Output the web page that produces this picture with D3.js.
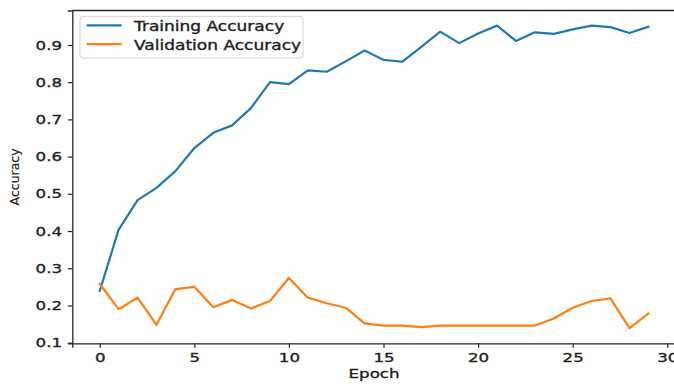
<!DOCTYPE html>
<html>
<head>
<meta charset="utf-8">
<script src="https://cdn.jsdelivr.net/npm/d3@7"></script>
<style>
  html, body { margin: 0; padding: 0; background: #fff; }
  svg { display: block; }
  text { font-family: "DejaVu Sans", sans-serif; fill: #222; stroke: #222; stroke-width: 0.35px; }
</style>
</head>
<body>
<svg id="chart" width="674" height="384"></svg>
<script>
// Training history per epoch
const epochs = d3.range(0, 30);
const trainAcc = [0.239, 0.404, 0.483, 0.516, 0.561, 0.623, 0.664, 0.684, 0.731, 0.800,
                  0.795, 0.832, 0.828, 0.856, 0.885, 0.860, 0.855, 0.895, 0.936, 0.905,
                  0.931, 0.952, 0.911, 0.934, 0.930, 0.942, 0.952, 0.948, 0.932, 0.949];
const valAcc = [0.258, 0.190, 0.221, 0.148, 0.244, 0.250, 0.195, 0.215, 0.192, 0.212,
                0.274, 0.221, 0.206, 0.194, 0.152, 0.146, 0.146, 0.142, 0.146, 0.146,
                0.146, 0.146, 0.146, 0.146, 0.165, 0.194, 0.212, 0.219, 0.139, 0.178];
const xTicks = [0, 5, 10, 15, 20, 25, 30];
const yTicks = [0.1, 0.2, 0.3, 0.4, 0.5, 0.6, 0.7, 0.8, 0.9];
const seriesNames = ["Training Accuracy", "Validation Accuracy"];
const colors = ["#1f77b4", "#ff7f0e"];

const svg = d3.select("#chart");
const plot = { left: 72.3, right: 675.8, top: 10.5, bottom: 343.3 };
const stretch = 1.28;   // horizontal widening of the text glyphs

// axis limits with 5% padding around the data, like the plotting default
const allVals = trainAcc.concat(valAcc);
const yMin = d3.min(allVals), yMax = d3.max(allVals);
const yPad = (yMax - yMin) * 0.05;
const xPad = (d3.max(epochs) - d3.min(epochs)) * 0.05;

const x = d3.scaleLinear()
  .domain([d3.min(epochs) - xPad, d3.max(epochs) + xPad])
  .range([plot.left, plot.right]);
const y = d3.scaleLinear()
  .domain([yMin - yPad, yMax + yPad])
  .range([plot.bottom, plot.top]);

// data lines
const line = d3.line().x((d, i) => x(epochs[i])).y(d => y(d));
[trainAcc, valAcc].forEach((vals, k) => {
  svg.append("path")
    .datum(vals)
    .attr("d", line)
    .attr("fill", "none")
    .attr("stroke", colors[k])
    .attr("stroke-width", 2.2)
    .attr("stroke-linejoin", "round")
    .attr("stroke-linecap", "square");
});

// frame
const frame = svg.append("g")
  .attr("fill", "none").attr("stroke", "#262626").attr("stroke-width", 1.3);
frame.append("line").attr("x1", plot.left).attr("x2", plot.right).attr("y1", plot.top).attr("y2", plot.top);
frame.append("line").attr("x1", plot.right).attr("x2", plot.right).attr("y1", plot.top).attr("y2", plot.bottom);

// x axis
const gx = svg.append("g")
  .attr("transform", `translate(0,${plot.bottom})`)
  .call(d3.axisBottom(x).tickValues(xTicks).tickSize(4.5).tickFormat(d3.format("d")));
// y axis
const gy = svg.append("g")
  .attr("transform", `translate(${plot.left},0)`)
  .call(d3.axisLeft(y).tickValues(yTicks).tickSize(4.5).tickFormat(d3.format(".1f")));

[gx, gy].forEach(g => {
  g.select(".domain").attr("stroke", "#262626").attr("stroke-width", 1.3);
  g.selectAll(".tick line").attr("stroke", "#262626").attr("stroke-width", 1.2);
  g.selectAll(".tick text").attr("font-size", 13).attr("fill", "#222")
    .attr("font-family", "DejaVu Sans, sans-serif");
});
gx.selectAll(".tick text")
  .attr("dy", null).attr("y", 0)
  .attr("transform", `translate(0,18.8) scale(${stretch},1)`);
gy.selectAll(".tick text")
  .attr("x", 0).attr("text-anchor", "end")
  .attr("transform", `translate(-10.3,0) scale(${stretch},1)`);

// axis titles
svg.append("text")
  .attr("text-anchor", "middle")
  .attr("font-size", 13)
  .attr("transform", `translate(${(plot.left + plot.right) / 2},378.3) scale(${stretch},1)`)
  .text("Epoch");
svg.append("text")
  .attr("text-anchor", "middle")
  .attr("font-size", 12.5)
  .style("stroke-width", "0.15px")
  .attr("transform", `translate(18.5,${(plot.top + plot.bottom) / 2}) rotate(-90)`)
  .text("Accuracy");

// legend
const legend = svg.append("g");
legend.append("rect")
  .attr("x", 80).attr("y", 16.3).attr("width", 223).attr("height", 41.7)
  .attr("rx", 3).attr("fill", "#fff").attr("fill-opacity", 0.85)
  .attr("stroke", "#d0d0d0").attr("stroke-width", 1);
const rowY = [25.3, 44.2];
seriesNames.forEach((name, k) => {
  legend.append("line")
    .attr("x1", 86.7).attr("x2", 121.7).attr("y1", rowY[k]).attr("y2", rowY[k])
    .attr("stroke", colors[k]).attr("stroke-width", 2.2);
  legend.append("text")
    .attr("font-size", 13.3)
    .attr("transform", `translate(134,${rowY[k] + 5.5}) scale(${stretch},1)`)
    .text(name);
});
</script>
</body>
</html>
